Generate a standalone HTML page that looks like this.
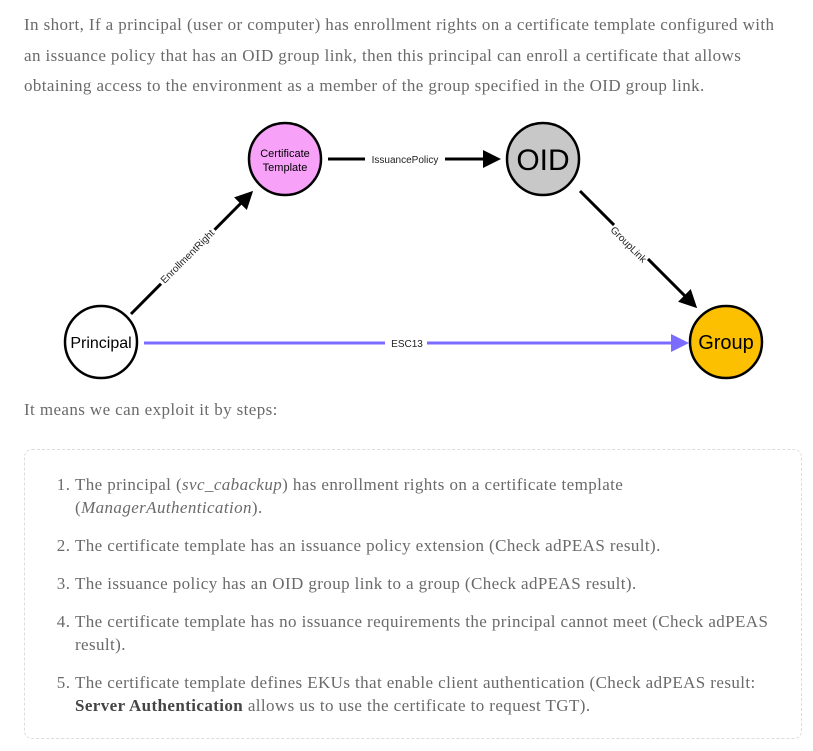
<!DOCTYPE html>
<html><head><meta charset="utf-8"><style>
body{margin:0;width:813px;height:751px;background:#fff;font-family:"Liberation Serif",serif;color:#6a6a6a;font-size:17px;letter-spacing:0.4px;overflow:hidden;position:relative}
.p{position:absolute;left:24px;width:760px;line-height:30.5px;margin:0}
.box{position:absolute;left:24px;top:449px;width:778px;height:290px;border:1px dashed #ddd;border-radius:8px;box-sizing:border-box}
ol{margin:0;padding:0 0 0 50px;position:absolute;left:0;top:23px;width:715px;line-height:23px}
li{margin-bottom:15px}
b{color:#444}
</style></head><body>
<p class="p" style="top:10px">In short, If a principal (user or computer) has enrollment rights on a certificate template configured with an issuance policy that has an OID group link, then this principal can enroll a certificate that allows obtaining access to the environment as a member of the group specified in the OID group link.</p>
<svg style="position:absolute;left:0;top:0;letter-spacing:0" width="813" height="400" font-family="Liberation Sans,sans-serif">
<defs>
<marker id="a" markerWidth="6" markerHeight="6" refX="5" refY="3" orient="auto" markerUnits="strokeWidth"><path d="M0,0L6,3L0,6z" fill="#000"/></marker>
<marker id="b" markerWidth="6" markerHeight="6" refX="5" refY="3" orient="auto" markerUnits="strokeWidth"><path d="M0,0L6,3L0,6z" fill="#7b6cff"/></marker>
</defs>
<line x1="131" y1="314" x2="251" y2="193" stroke="#000" stroke-width="3" marker-end="url(#a)"/>
<line x1="328" y1="159" x2="498" y2="159" stroke="#000" stroke-width="3" marker-end="url(#a)"/>
<line x1="580" y1="191" x2="695" y2="306" stroke="#000" stroke-width="3" marker-end="url(#a)"/>
<line x1="144" y1="343" x2="686" y2="343" stroke="#7b6cff" stroke-width="3" marker-end="url(#b)"/>
<rect x="365" y="150" width="80" height="18" fill="#fff"/>
<text x="405" y="163" font-size="10" text-anchor="middle" fill="#222">IssuancePolicy</text>
<rect x="385" y="335" width="42" height="16" fill="#fff"/>
<text x="407" y="347" font-size="10" text-anchor="middle" fill="#222">ESC13</text>
<g transform="translate(187,256) rotate(-45)"><rect x="-38" y="-8" width="76" height="16" fill="#fff"/><text x="0" y="4" font-size="10" text-anchor="middle" fill="#222">EnrollmentRight</text></g>
<g transform="translate(629,244) rotate(45)"><rect x="-24" y="-8" width="48" height="16" fill="#fff"/><text x="0" y="4" font-size="10" text-anchor="middle" fill="#222">GroupLink</text></g>
<circle cx="101" cy="342" r="36" fill="#fff" stroke="#000" stroke-width="2.5"/>
<text x="101" y="348" font-size="16" text-anchor="middle" fill="#000">Principal</text>
<circle cx="285" cy="159" r="36" fill="#f7a1f9" stroke="#000" stroke-width="2.5"/>
<text x="285" y="157" font-size="11" text-anchor="middle" fill="#000">Certificate</text>
<text x="285" y="171" font-size="11" text-anchor="middle" fill="#000">Template</text>
<circle cx="543" cy="159" r="36" fill="#c8c8c8" stroke="#000" stroke-width="2.5"/>
<text x="543" y="170" font-size="30" text-anchor="middle" fill="#000">OID</text>
<circle cx="726" cy="342" r="36" fill="#fcc000" stroke="#000" stroke-width="2.5"/>
<text x="726" y="349" font-size="20" text-anchor="middle" fill="#000">Group</text>
</svg>
<p class="p" style="top:395px">It means we can exploit it by steps:</p>
<div class="box"><ol>
<li>The principal (<i>svc_cabackup</i>) has enrollment rights on a certificate template (<i>ManagerAuthentication</i>).</li>
<li>The certificate template has an issuance policy extension (Check adPEAS result).</li>
<li>The issuance policy has an OID group link to a group (Check adPEAS result).</li>
<li>The certificate template has no issuance requirements the principal cannot meet (Check adPEAS result).</li>
<li>The certificate template defines EKUs that enable client authentication (Check adPEAS result: <b>Server Authentication</b> allows us to use the certificate to request TGT).</li>
</ol></div>
</body></html>
